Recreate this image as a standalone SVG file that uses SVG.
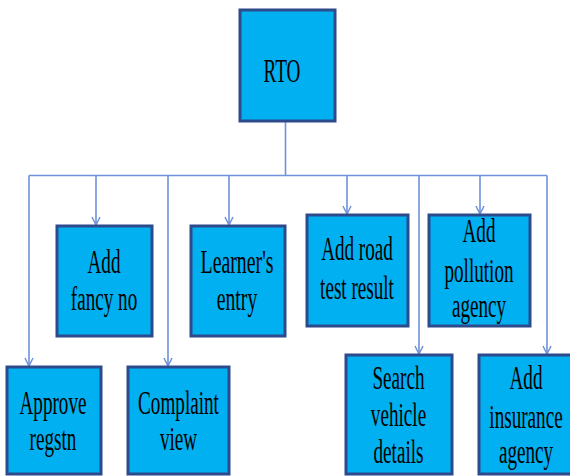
<svg xmlns="http://www.w3.org/2000/svg" width="570" height="476" viewBox="0 0 570 476">
<defs>
<style>
.box{fill:#00B0F0;stroke:#2C4A8C;stroke-width:3}
.lbl{font-family:"Liberation Serif","Times New Roman",serif;font-size:33px;fill:#000;text-anchor:middle}
.con{fill:none;stroke:#6E92DA;stroke-width:1.6}
</style>
<marker id="arr" markerUnits="userSpaceOnUse" markerWidth="10" markerHeight="10" viewBox="0 0 10 10" refX="10" refY="5" orient="auto">
<path d="M2,1 L10,5 L2,9" fill="none" stroke="#6E92DA" stroke-width="1.5"/>
</marker>
</defs>
<rect width="570" height="476" fill="#fff"/>
<g id="connectors">
<path class="con" d="M285.5,121 V175.5"/>
<path class="con" d="M29,175.5 H547"/>
<path class="con" d="M29,175.5 V366" marker-end="url(#arr)"/>
<path class="con" d="M96,175.5 V225" marker-end="url(#arr)"/>
<path class="con" d="M168,175.5 V366" marker-end="url(#arr)"/>
<path class="con" d="M229,175.5 V225" marker-end="url(#arr)"/>
<path class="con" d="M347,175.5 V214" marker-end="url(#arr)"/>
<path class="con" d="M419,175.5 V354" marker-end="url(#arr)"/>
<path class="con" d="M480,175.5 V214" marker-end="url(#arr)"/>
<path class="con" d="M547,175.5 V354" marker-end="url(#arr)"/>
</g>
<g id="rto">
<rect class="box" x="240" y="10" width="95" height="111"/>
<g transform="translate(282,0) scale(0.58,1)"><text class="lbl" x="0" y="82">RTO</text></g>
</g>
<g id="add-fancy-no">
<rect class="box" x="57" y="226" width="95" height="110"/>
<g transform="translate(104,0) scale(0.58,1)"><text class="lbl"><tspan x="0" y="273">Add</tspan><tspan x="0" y="310">fancy no</tspan></text></g>
</g>
<g id="learners-entry">
<rect class="box" x="191" y="226" width="94" height="110"/>
<g transform="translate(237,0) scale(0.6,1)"><text class="lbl"><tspan x="0" y="273">Learner's</tspan><tspan x="0" y="310">entry</tspan></text></g>
</g>
<g id="add-road-test-result">
<rect class="box" x="307" y="215" width="101" height="111"/>
<g transform="translate(357,0) scale(0.58,1)"><text class="lbl"><tspan x="0" y="260">Add road</tspan><tspan x="0" y="299">test result</tspan></text></g>
</g>
<g id="add-pollution-agency">
<rect class="box" x="429" y="215" width="101" height="111"/>
<g transform="translate(479,0) scale(0.58,1)"><text class="lbl"><tspan x="0" y="242">Add</tspan><tspan x="0" y="282">pollution</tspan><tspan x="0" y="317">agency</tspan></text></g>
</g>
<g id="approve-regstn">
<rect class="box" x="7" y="367" width="94" height="107"/>
<g transform="translate(53,0) scale(0.58,1)"><text class="lbl"><tspan x="0" y="414">Approve</tspan><tspan x="0" y="450">regstn</tspan></text></g>
</g>
<g id="complaint-view">
<rect class="box" x="128" y="367" width="101" height="107"/>
<g transform="translate(178.5,0) scale(0.58,1)"><text class="lbl"><tspan x="0" y="414">Complaint</tspan><tspan x="0" y="450">view</tspan></text></g>
</g>
<g id="search-vehicle-details">
<rect class="box" x="346" y="355" width="106" height="119"/>
<g transform="translate(398.5,0) scale(0.58,1)"><text class="lbl"><tspan x="0" y="389">Search</tspan><tspan x="0" y="426">vehicle</tspan><tspan x="0" y="463">details</tspan></text></g>
</g>
<g id="add-insurance-agency">
<rect class="box" x="479" y="355" width="96" height="119"/>
<g transform="translate(526,0) scale(0.58,1)"><text class="lbl"><tspan x="0" y="389">Add</tspan><tspan x="0" y="428">insurance</tspan><tspan x="0" y="463">agency</tspan></text></g>
</g>
</svg>
